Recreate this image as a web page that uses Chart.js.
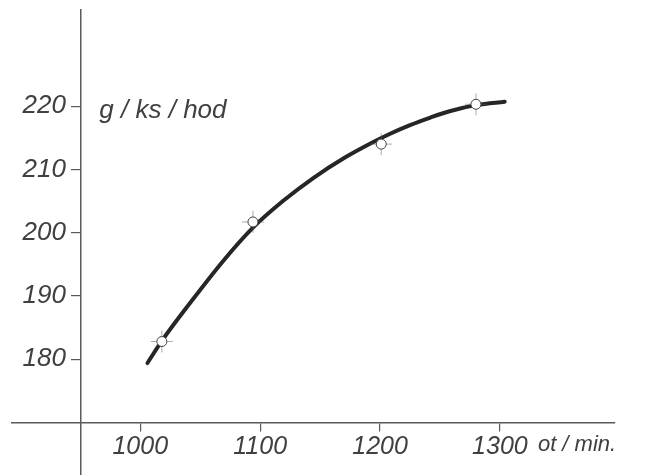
<!DOCTYPE html>
<html>
<head>
<meta charset="utf-8">
<script src="https://cdn.jsdelivr.net/npm/chart.js@4"></script>
<style>
    body { margin: 0; background: #fff; }
    canvas { display: block; }
</style>
</head>
<body>
<canvas id="spotrebaChart" width="653" height="475"></canvas>
<script>

// measured points (otacky / spotreba)
const otacky = [1018, 1094, 1201, 1280];
const spotreba = [182.8, 201.7, 214, 220.3];

// faired curve
const krivkaOtacky = [1006, 1018, 1042, 1069, 1094, 1119, 1144, 1170, 1192, 1208, 1225, 1242, 1258, 1281, 1304];
const krivkaSpotreba = [179.4, 182.9, 189.0, 195.5, 200.8, 205.0, 208.6, 211.8, 214.1, 215.6, 217.0, 218.2, 219.2, 220.2, 220.7];

const xTicks = [1000, 1100, 1200, 1300];
const yTicks = [180, 190, 200, 210, 220];

const yLabel = "g / ks / hod";
const xLabel = "ot / min.";

const INK = "#404040";
const AXIS = "#5a5a5a";
const FONT = "'Liberation Sans', Arial, sans-serif";

function toXY(xs, ys) {
    return xs.map((x, i) => ({ x: x, y: ys[i] }));
}

function noPadding(scale) {
    scale.paddingLeft = 0;
    scale.paddingRight = 0;
    scale.paddingTop = 0;
    scale.paddingBottom = 0;
}

const axisTitles = {
    id: "axisTitles",
    afterDraw(chart) {
        const ctx = chart.ctx;
        const xs = chart.scales.x;
        const ys = chart.scales.y;
        ctx.save();
        ctx.fillStyle = INK;
        ctx.textBaseline = "middle";
        ctx.textAlign = "left";
        ctx.font = "italic 26px " + FONT;
        ctx.fillText(yLabel, xs.getPixelForValue(950) + 19, ys.getPixelForValue(220) + 5);
        ctx.font = "italic 22px " + FONT;
        ctx.fillText(xLabel, xs.getPixelForValue(1300) + 38, ys.getPixelForValue(170) + 22);
        ctx.restore();
    }
};

function createChart() {

    const ctx = document.getElementById("spotrebaChart");

    if (!ctx) return;

    new Chart(ctx, {
        type: "scatter",
        data: {
            datasets: [
                {
                    label: "krivka",
                    data: toXY(krivkaOtacky, krivkaSpotreba),
                    showLine: true,
                    borderColor: "#262626",
                    borderWidth: 4,
                    borderCapStyle: "round",
                    cubicInterpolationMode: "monotone",
                    pointRadius: 0,
                    order: 2
                },
                {
                    label: "merani-kriz",
                    data: toXY(otacky, spotreba),
                    pointStyle: "cross",
                    pointRadius: 11,
                    borderColor: "rgba(90,90,90,0.5)",
                    borderWidth: 1,
                    order: 1
                },
                {
                    label: "merani",
                    data: toXY(otacky, spotreba),
                    pointStyle: "circle",
                    pointRadius: 5,
                    backgroundColor: "#ffffff",
                    borderColor: "#444",
                    borderWidth: 1,
                    order: 0
                }
            ]
        },
        options: {
            responsive: false,
            animation: false,
            layout: {
                autoPadding: false,
                padding: { left: 12, right: 38, top: 10, bottom: 0 }
            },
            plugins: {
                legend: { display: false },
                tooltip: { enabled: false }
            },
            scales: {
                x: {
                    type: "linear",
                    min: 893,
                    max: 1396,
                    position: { y: 170 },
                    afterFit(scale) {
                        scale.height = 0;
                        noPadding(scale);
                    },
                    afterBuildTicks(scale) {
                        scale.ticks = xTicks.map(v => ({ value: v }));
                    },
                    border: { color: AXIS, width: 1.5 },
                    grid: {
                        drawOnChartArea: false,
                        color: AXIS,
                        lineWidth: 1.2,
                        tickLength: 8
                    },
                    ticks: {
                        color: INK,
                        padding: 2,
                        font: { family: FONT, style: "italic", size: 25 },
                        maxRotation: 0,
                        callback: v => String(v)
                    }
                },
                y: {
                    type: "linear",
                    min: 161.7,
                    max: 235.2,
                    position: { x: 950 },
                    afterFit(scale) {
                        scale.width = 0;
                        noPadding(scale);
                    },
                    afterBuildTicks(scale) {
                        scale.ticks = yTicks.map(v => ({ value: v }));
                    },
                    border: { color: AXIS, width: 1.5 },
                    grid: {
                        drawOnChartArea: false,
                        color: AXIS,
                        lineWidth: 1.2,
                        tickLength: 9
                    },
                    ticks: {
                        color: INK,
                        font: { family: FONT, style: "italic", size: 26 },
                        // labels sit against the axis line, keep a gap
                        callback: v => String(v) + "  "
                    }
                }
            }
        },
        plugins: [axisTitles]
    });

}

createChart();

</script>
</body>
</html>
